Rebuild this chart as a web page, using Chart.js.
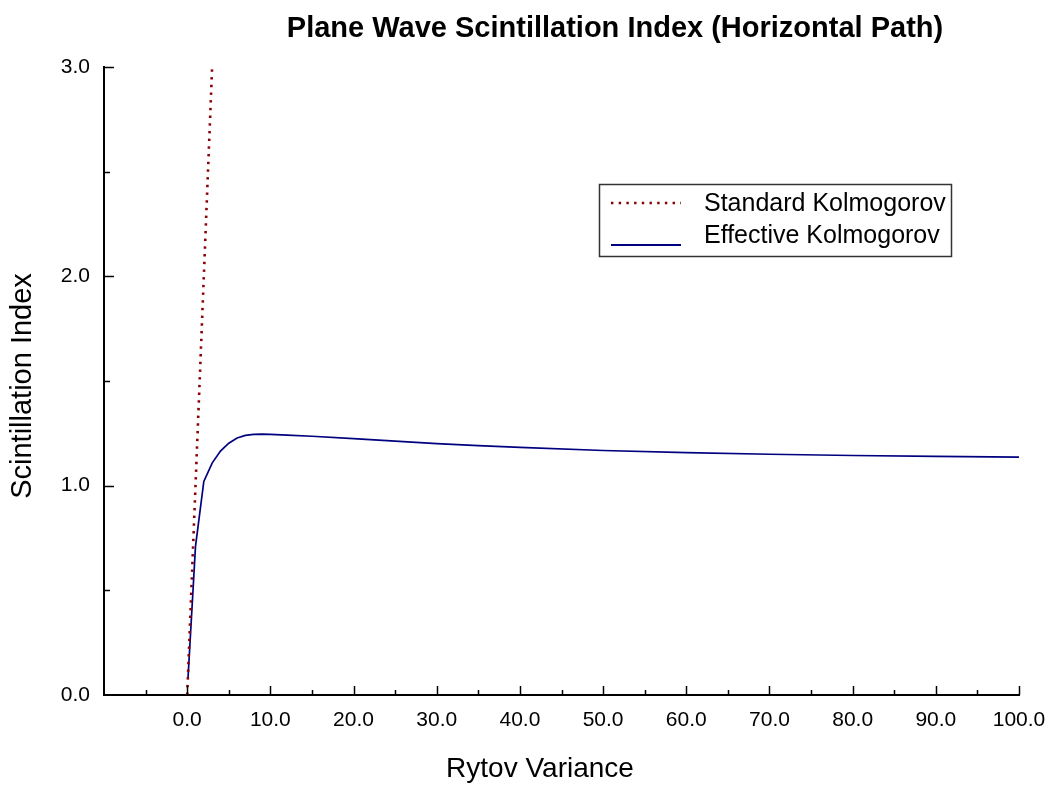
<!DOCTYPE html>
<html>
<head>
<meta charset="utf-8">
<script src="https://cdn.jsdelivr.net/npm/chart.js@4/dist/chart.umd.min.js"></script>
<style>
  html, body { margin: 0; padding: 0; background: #fff; }
  canvas { display: block; }
</style>
</head>
<body>
<canvas id="scintChart" width="1050" height="787"></canvas>
<script>
// Plane wave scintillation index vs Rytov variance

const FONT = "'Liberation Sans', Arial, sans-serif";

const X_MIN = -10, X_MAX = 100, X_STEP = 5;
const Y_MIN = 0,   Y_MAX = 3,   Y_STEP = 0.5;

// Standard Kolmogorov (weak-fluctuation theory: index = Rytov variance)
const stdX = [0, 3];
const stdY = [0, 3];

// Effective Kolmogorov
const effX = [0.1, 1, 2, 3, 4, 5, 6, 7, 8, 9, 10, 12, 15, 20, 25, 30, 35, 40, 50, 60, 70, 80, 90, 100];
const effY = [0.08, 0.71, 1.02, 1.108, 1.165, 1.203, 1.228, 1.240, 1.245, 1.246, 1.245, 1.241, 1.236,
              1.225, 1.213, 1.201, 1.191, 1.183, 1.168, 1.158, 1.150, 1.144, 1.140, 1.136];

const TITLE   = 'Plane Wave Scintillation Index (Horizontal Path)';
const X_TITLE = 'Rytov Variance';
const Y_TITLE = 'Scintillation Index';

const toPoints = (xs, ys) => xs.map((x, i) => ({ x, y: ys[i] }));

// ── tick marks pointing into the plot, long on labelled values ─────
const inwardTicks = {
  id: 'inwardTicks',
  afterDraw(chart) {
    const { ctx: c, chartArea: a, scales } = chart;
    c.save();
    c.strokeStyle = '#000';
    c.lineWidth = 1.5;
    scales.x.ticks.forEach(t => {
      if (t.value <= X_MIN) return;
      const px = Math.round(scales.x.getPixelForValue(t.value)) + 0.5;
      const len = t.value % 10 === 0 ? 9 : 5;
      c.beginPath();
      c.moveTo(px, a.bottom);
      c.lineTo(px, a.bottom - len);
      c.stroke();
    });
    scales.y.ticks.forEach(t => {
      if (t.value <= Y_MIN) return;
      const py = Math.round(scales.y.getPixelForValue(t.value)) + 0.5;
      const len = t.value % 1 === 0 ? 10 : 6;
      c.beginPath();
      c.moveTo(a.left, py);
      c.lineTo(a.left + len, py);
      c.stroke();
    });
    c.restore();
  }
};

// ── titles and boxed legend ────────────────────────────────────────
const textAndLegend = {
  id: 'textAndLegend',
  afterDraw(chart) {
    const { ctx: c, chartArea: a } = chart;
    c.save();
    c.fillStyle = '#000';
    c.textBaseline = 'middle';
    c.textAlign = 'center';

    c.font = `bold 29px ${FONT}`;
    c.fillText(TITLE, 615, 29);

    c.font = `28px ${FONT}`;
    c.fillText(X_TITLE, 540, 769);

    c.save();
    c.translate(23, (a.top + a.bottom) / 2 + 5);
    c.rotate(-Math.PI / 2);
    c.font = `29px ${FONT}`;
    c.fillText(Y_TITLE, 0, 0);
    c.restore();

    // legend
    const box = { x: 599.5, y: 184.5, w: 352, h: 72 };
    c.strokeStyle = '#333';
    c.lineWidth = 1.5;
    c.strokeRect(box.x, box.y, box.w, box.h);

    const rows = [204, 236];
    const lineY = [203, 245];
    c.font = `25px ${FONT}`;
    c.textAlign = 'left';
    chart.data.datasets.forEach((ds, i) => {
      c.save();
      c.strokeStyle = ds.borderColor;
      c.lineWidth = i === 1 ? 2 : ds.borderWidth;
      c.setLineDash(ds.borderDash || []);
      c.beginPath();
      c.moveTo(611, lineY[i]);
      c.lineTo(681, lineY[i]);
      c.stroke();
      c.restore();
      c.fillText(ds.label, 704, rows[i]);
    });
    c.restore();
  }
};

new Chart(document.getElementById('scintChart'), {
  type: 'line',
  data: {
    datasets: [
      {
        label: 'Standard Kolmogorov',
        data: toPoints(stdX, stdY),
        borderColor: '#8B0000',
        borderWidth: 2.6,
        borderDash: [2.4, 5.3],
        pointRadius: 0,
        tension: 0,
      },
      {
        label: 'Effective Kolmogorov',
        data: toPoints(effX, effY),
        borderColor: '#00007F',
        borderWidth: 1.7,
        pointRadius: 0,
        tension: 0,
      }
    ]
  },
  plugins: [inwardTicks, textAndLegend],
  options: {
    responsive: false,
    animation: false,
    layout: { padding: { top: 67, right: 31, left: 0, bottom: 0 } },
    plugins: {
      legend: { display: false },
      title: { display: false },
      tooltip: { enabled: false },
    },
    scales: {
      x: {
        type: 'linear',
        min: X_MIN,
        max: X_MAX,
        afterFit: s => { s.height = 92; s.paddingLeft = 0; s.paddingRight = 0; },
        grid: { display: false, drawTicks: false },
        border: { display: true, color: '#000', width: 2 },
        ticks: {
          stepSize: X_STEP,
          autoSkip: false,
          maxRotation: 0,
          padding: 13,
          color: '#000',
          font: { family: FONT, size: 21 },
          callback: v => (v >= 0 && v % 10 === 0) ? v.toFixed(1) : '',
        }
      },
      y: {
        type: 'linear',
        min: Y_MIN,
        max: Y_MAX,
        afterFit: s => { s.width = 104; s.paddingTop = 0; s.paddingBottom = 0; },
        grid: { display: false, drawTicks: false },
        border: { display: true, color: '#000', width: 2 },
        ticks: {
          stepSize: Y_STEP,
          autoSkip: false,
          padding: 14,
          color: '#000',
          font: { family: FONT, size: 21 },
          callback: v => v % 1 === 0 ? v.toFixed(1) : '',
        }
      }
    }
  }
});
</script>
</body>
</html>
